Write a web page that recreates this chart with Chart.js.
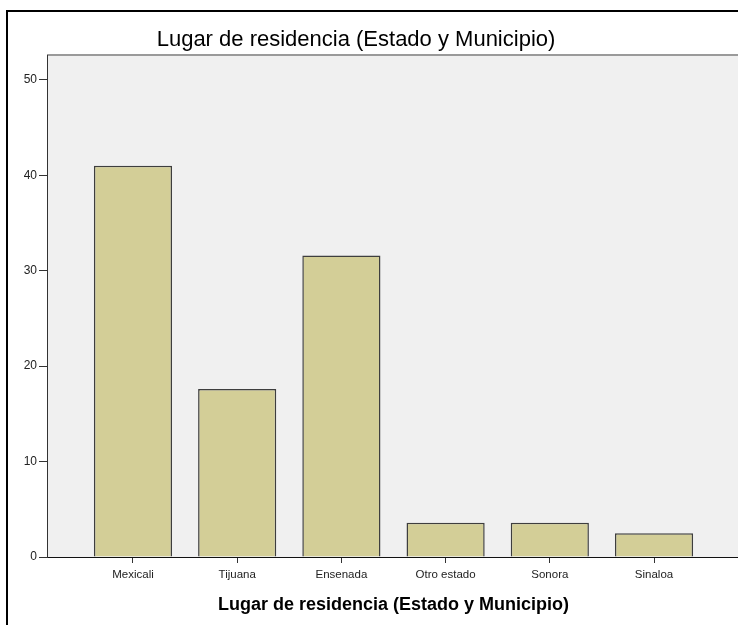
<!DOCTYPE html>
<html>
<head>
<meta charset="utf-8">
<script src="https://cdn.jsdelivr.net/npm/chart.js@4.4.1/dist/chart.umd.min.js"></script>
<style>
  html, body { margin: 0; padding: 0; background: #fff; overflow: hidden; }
  #c { display: block; position: absolute; left: 0; top: 0; }
</style>
</head>
<body>
<canvas id="c" width="745" height="625"></canvas>
<script>
// Values (percent)
const categories = ['Mexicali', 'Tijuana', 'Ensenada', 'Otro estado', 'Sonora', 'Sinaloa'];
const values = [41.0, 17.6, 31.6, 3.6, 3.6, 2.5];
const yTicks = [0, 10, 20, 30, 40, 50];
const chartTitle = 'Lugar de residencia (Estado y Municipio)';
const xTitle = 'Lugar de residencia (Estado y Municipio)';

const FONT = '"Liberation Sans", Arial, sans-serif';

// grey plot area, frame and top title
const framePlugin = {
  id: 'frame',
  beforeDraw(chart) {
    const ctx = chart.ctx;
    const a = chart.chartArea;
    ctx.save();
    ctx.fillStyle = '#f0f0f0';
    ctx.fillRect(a.left, a.top, a.right - a.left, a.bottom - a.top);
    ctx.strokeStyle = '#9a9a9a';
    ctx.lineWidth = 2;
    ctx.beginPath();
    ctx.moveTo(a.left, a.top);
    ctx.lineTo(a.right + 5, a.top);
    ctx.stroke();
    // outer frame (only left and top are visible)
    ctx.strokeStyle = '#000';
    ctx.lineWidth = 2;
    ctx.beginPath();
    ctx.moveTo(7, 640);
    ctx.lineTo(7, 11);
    ctx.lineTo(760, 11);
    ctx.stroke();
    ctx.restore();
  },
  afterDraw(chart) {
    const ctx = chart.ctx;
    ctx.save();
    ctx.fillStyle = '#000';
    ctx.font = '22px ' + FONT;
    ctx.textAlign = 'center';
    ctx.textBaseline = 'middle';
    ctx.fillText(chartTitle, 356, 40);
    ctx.restore();
  }
};

new Chart(document.getElementById('c'), {
  type: 'bar',
  data: {
    datasets: [{
      data: values.map((v, i) => ({ x: i, y: v })),
      backgroundColor: '#d3ce97',
      borderColor: '#3e3e3e',
      borderWidth: 1.5,
      barPercentage: 0.75,
      categoryPercentage: 1
    }]
  },
  options: {
    responsive: false,
    animation: false,
    devicePixelRatio: 1,
    layout: { padding: { top: 55, right: 5, bottom: 0, left: 0 } },
    plugins: {
      legend: { display: false },
      tooltip: { enabled: false },
      title: { display: false }
    },
    scales: {
      x: {
        type: 'linear',
        offset: false,
        min: -0.825,
        max: 5.825,
        afterFit(scale) { scale.height = 68; },
        afterBuildTicks(scale) {
          scale.ticks = categories.map((_, i) => ({ value: i }));
        },
        ticks: {
          autoSkip: false,
          maxRotation: 0,
          padding: 5,
          color: '#222',
          font: { family: FONT, size: 11.5 },
          callback: (v) => categories[v]
        },
        grid: { offset: false, drawOnChartArea: false, tickLength: 6, color: '#333', tickWidth: 1 },
        border: { color: '#111', width: 1 },
        title: {
          display: true,
          text: xTitle,
          color: '#000',
          font: { family: FONT, size: 18, weight: 'bold' },
          padding: { top: 4, bottom: 9 }
        }
      },
      y: {
        min: 0,
        max: 52.6,
        afterFit(scale) { scale.width = 47; },
        afterBuildTicks(scale) {
          scale.ticks = yTicks.map(v => ({ value: v }));
        },
        ticks: {
          padding: 2,
          color: '#222',
          font: { family: FONT, size: 12 }
        },
        grid: { drawOnChartArea: false, tickLength: 8, color: '#333', tickWidth: 1 },
        border: { color: '#333', width: 1 }
      }
    }
  },
  plugins: [framePlugin]
});
</script>
</body>
</html>
